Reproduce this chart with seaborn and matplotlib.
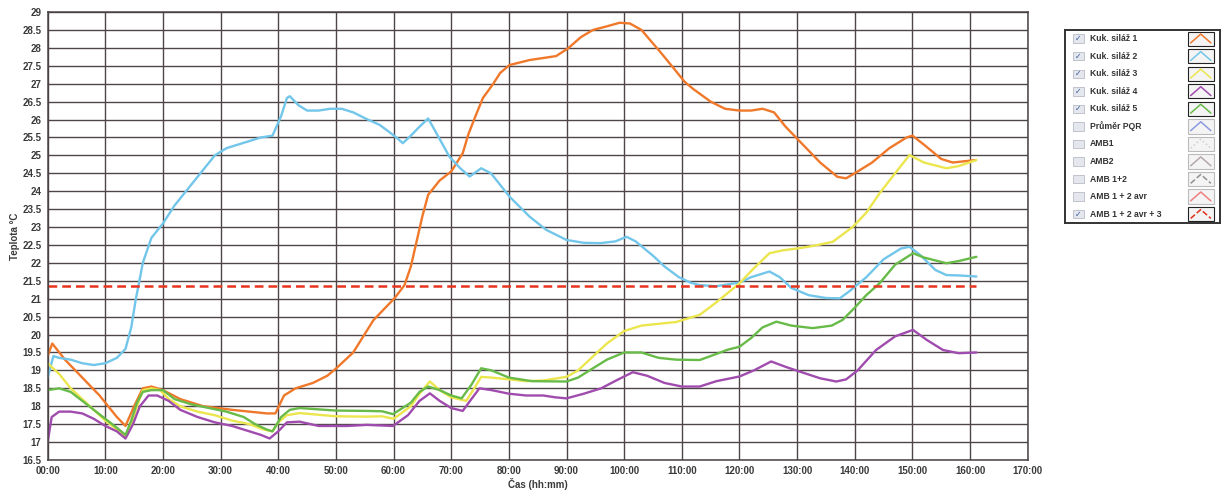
import numpy as np
import pandas as pd
import seaborn as sns
import matplotlib.pyplot as plt
from matplotlib.patches import Rectangle

# --- data (time in hours, temperature in degC) ---
t_kuk1 = [0, 0.8, 3, 6, 9, 12, 13.5, 15, 16.5, 18, 20, 23, 27, 32, 35, 38, 39.5,
          41, 43, 46, 48.5, 50, 53, 56.5, 60.2, 61.9, 63, 64, 65, 66, 67, 68, 70,
          72, 73, 74.4, 75.5, 77.3, 78.5, 80.1, 83.6, 88.2, 90.3, 92.5, 94.6, 97,
          99.2, 101, 103, 106.5, 109, 110.5, 112, 115, 117.5, 120, 122, 124, 126,
          128, 131, 134, 137, 138.5, 140, 143, 146, 149, 150, 152, 155, 157, 161]
v_kuk1 = [19.4, 19.75, 19.3, 18.8, 18.3, 17.7, 17.45, 18.0, 18.5, 18.55, 18.45,
          18.2, 18.0, 17.9, 17.85, 17.8, 17.8, 18.3, 18.5, 18.65, 18.85, 19.05, 19.5,
          20.4, 21.02, 21.38, 21.9, 22.6, 23.3, 23.9, 24.1, 24.3, 24.55, 25.06, 25.6,
          26.17, 26.6, 27.0, 27.3, 27.52, 27.66, 27.77, 27.99, 28.3, 28.5, 28.6,
          28.7, 28.68, 28.5, 27.84, 27.35, 27.05, 26.85, 26.5, 26.3, 26.25, 26.25,
          26.3, 26.2, 25.8, 25.3, 24.8, 24.4, 24.36, 24.5, 24.8, 25.2, 25.5, 25.55,
          25.3, 24.9, 24.8, 24.87]

t_kuk2 = [0, 1, 2, 4, 6, 8, 10, 12, 13.5, 14.5, 15.3, 15.8, 16.5, 18, 20, 22,
          24.5, 27, 29, 31, 33, 35, 37, 39, 40.5, 41.5, 42, 43.5, 45, 47, 49, 51,
          53, 55.5, 57.6, 60.5, 61.6, 63, 64.5, 66, 67.5, 69.7, 71.5, 73.2, 75.2,
          76.9, 80.1, 83.6, 86.5, 90, 93, 95.8, 98.5, 100.4, 102, 103.5, 105, 107,
          109.5, 111.5, 113.1, 116, 118, 120, 122, 125.2, 127, 129, 132, 135, 137.4,
          139, 142, 145, 148, 149.5, 151.5, 154, 155.9, 158, 161.1]
v_kuk2 = [18.8, 19.4, 19.35, 19.3, 19.2, 19.15, 19.2, 19.35, 19.6, 20.2, 21.0,
          21.4, 22.0, 22.7, 23.1, 23.6, 24.1, 24.6, 25.0, 25.2, 25.3, 25.4, 25.5,
          25.55, 26.1, 26.6, 26.65, 26.4, 26.25, 26.25, 26.3, 26.3, 26.2, 26.0,
          25.85, 25.5, 25.34, 25.55, 25.8, 26.03, 25.6, 24.96, 24.65, 24.41, 24.64,
          24.5, 23.85, 23.29, 22.92, 22.64, 22.56, 22.55, 22.6, 22.73, 22.6, 22.4,
          22.2, 21.9, 21.6, 21.45, 21.38, 21.35, 21.4, 21.45, 21.6, 21.76, 21.6,
          21.3, 21.1, 21.02, 21.01, 21.2, 21.6, 22.1, 22.4, 22.45, 22.2, 21.8,
          21.66, 21.65, 21.62]

t_kuk3 = [0, 2, 4, 6, 8, 10, 12, 13.5, 14.5, 15.5, 16.5, 18, 19.5, 21, 23, 26,
          29, 32, 35, 37.5, 39, 40, 41.5, 43.7, 50, 55.3, 58, 60, 63, 64.5, 66.3,
          68, 70, 72.6, 74, 75.2, 77, 80, 83, 86, 90, 92, 94, 97, 100, 103, 106,
          109, 113.1, 116, 120, 122.5, 125.2, 127.5, 130.4, 133, 136.2, 139.7, 142,
          144.3, 147, 149.5, 152, 155.9, 158, 161.1]
v_kuk3 = [19.2, 18.9, 18.5, 18.2, 17.9, 17.6, 17.35, 17.15, 17.5, 18.0, 18.45,
          18.5, 18.45, 18.2, 18.0, 17.85, 17.75, 17.6, 17.5, 17.35, 17.3, 17.55,
          17.75, 17.81, 17.72, 17.71, 17.72, 17.65, 18.0, 18.35, 18.69, 18.45,
          18.25, 18.15, 18.5, 18.82, 18.8, 18.75, 18.7, 18.72, 18.82, 19.0, 19.3,
          19.75, 20.1, 20.25, 20.3, 20.35, 20.55, 20.9, 21.43, 21.85, 22.27, 22.35,
          22.41, 22.48, 22.59, 23.01, 23.4, 23.94, 24.5, 25.01, 24.8, 24.64, 24.7,
          24.87]

t_kuk4 = [0, 0.7, 2, 4, 6, 8, 10, 12, 13.5, 14.8, 16, 17.5, 19, 21, 23, 26, 29,
          32, 34, 37, 38.5, 40, 41.5, 43.7, 47, 52, 55.3, 59.9, 62.5, 64.5, 66.3, 68,
          70, 72, 73.5, 74.9, 77, 80, 83, 86, 88, 90, 93, 96, 99, 101.5, 104, 107,
          110, 113.1, 116, 120, 122.5, 125.5, 128, 130.4, 134, 136.8, 138.5, 140.5,
          143.7, 147, 150.1, 152.5, 155.3, 158, 161.1]
v_kuk4 = [17.0, 17.7, 17.85, 17.85, 17.8, 17.65, 17.45, 17.3, 17.1, 17.5, 18.0,
          18.3, 18.3, 18.15, 17.9, 17.7, 17.55, 17.45, 17.35, 17.2, 17.1, 17.3,
          17.55, 17.57, 17.45, 17.45, 17.48, 17.45, 17.75, 18.15, 18.36, 18.15,
          17.95, 17.87, 18.2, 18.5, 18.45, 18.35, 18.3, 18.3, 18.25, 18.22, 18.35,
          18.5, 18.75, 18.95, 18.85, 18.65, 18.55, 18.55, 18.7, 18.83, 19.0, 19.25,
          19.1, 18.97, 18.78, 18.69, 18.75, 19.0, 19.57, 19.95, 20.13, 19.85, 19.57,
          19.48, 19.5]

t_kuk5 = [0, 2, 4, 6, 8, 10, 12, 13.5, 14.5, 15.5, 16.5, 18, 20, 22, 25, 28, 31,
          34, 36, 38, 39, 40.5, 42, 43.7, 50, 55.3, 58, 59.9, 63, 64.5, 66, 68, 70,
          71.8, 73.5, 75.2, 77, 80, 84, 90, 92, 94, 97, 100, 103, 106, 109, 113.1,
          115, 118, 120, 122, 124, 126.4, 129, 132.7, 136, 137.9, 140, 142, 144.3,
          147, 150.1, 152, 155.9, 158, 161.1]
v_kuk5 = [18.45, 18.5, 18.4, 18.15, 17.9, 17.65, 17.4, 17.2, 17.6, 18.1, 18.4,
          18.45, 18.45, 18.2, 18.05, 17.95, 17.85, 17.7, 17.5, 17.35, 17.3, 17.7,
          17.9, 17.95, 17.88, 17.87, 17.86, 17.78, 18.1, 18.4, 18.55, 18.45, 18.3,
          18.22, 18.6, 19.06, 19.0, 18.8, 18.7, 18.69, 18.8, 19.0, 19.3, 19.5, 19.5,
          19.35, 19.3, 19.29, 19.4, 19.58, 19.66, 19.9, 20.2, 20.36, 20.25, 20.18,
          20.25, 20.41, 20.75, 21.1, 21.43, 21.95, 22.27, 22.15, 21.99, 22.05,
          22.17]

t_amb = [0, 161]
v_amb = [21.35, 21.35]

series_names = ["Kuk. siláž 1", "Kuk. siláž 2", "Kuk. siláž 3", "Kuk. siláž 4",
                "Kuk. siláž 5"]
series_colors = ["#f0782a", "#72c6ea", "#ece64e", "#a04cae", "#68bb48"]

legend_labels = ["Kuk. siláž 1", "Kuk. siláž 2", "Kuk. siláž 3", "Kuk. siláž 4",
                 "Kuk. siláž 5", "Průměr PQR", "AMB1", "AMB2", "AMB 1+2",
                 "AMB 1 + 2 avr", "AMB 1 + 2 avr + 3"]
legend_checked = [True, True, True, True, True, False, False, False, False,
                  False, True]
legend_colors = series_colors + ["#8c9ae0", "#cfcfcf", "#b4a9a9", "#8f8f8f",
                                 "#f08080", "#e0301e"]
legend_styles = ["-"] * 6 + [":", "-", "--", "-", "--"]

frames = []
for name, t, v in zip(series_names,
                      [t_kuk1, t_kuk2, t_kuk3, t_kuk4, t_kuk5],
                      [v_kuk1, v_kuk2, v_kuk3, v_kuk4, v_kuk5]):
    frames.append(pd.DataFrame({"cas": t, "teplota": v, "serie": name}))
df = pd.concat(frames, ignore_index=True)
df_amb = pd.DataFrame({"cas": t_amb, "teplota": v_amb})

sns.set_style("white")
plt.rcParams['font.family'] = ['Liberation Sans', 'DejaVu Sans']

fig = plt.figure(figsize=(12.22, 4.9), dpi=100)
ax = fig.add_axes([0.039, 0.0612, 0.802, 0.9143])

sns.lineplot(data=df, x="cas", y="teplota", hue="serie",
             palette=dict(zip(series_names, series_colors)),
             estimator=None, sort=False, linewidth=1.7, legend=False, ax=ax)
sns.lineplot(data=df_amb, x="cas", y="teplota", color="#e8341e",
             linestyle=(0, (3.5, 2.0)), linewidth=1.8, estimator=None, ax=ax)

ax.set_xlim(0, 170)
ax.set_ylim(16.5, 29)
ax.set_xticks(np.arange(0, 171, 10))
ax.set_xticklabels([f"{h:02d}:00" for h in range(0, 171, 10)])
yt = np.arange(16.5, 29.01, 0.5)
ax.set_yticks(yt)
ax.set_yticklabels([f"{y:g}" for y in yt])
ax.grid(True, color="#4e4646", linewidth=1.0)
ax.set_axisbelow(True)
for s in ax.spines.values():
    s.set_color("#4a4242")
    s.set_linewidth(1.1)
ax.tick_params(axis="both", which="major", length=3, width=0.8, color="#555555",
               labelsize=7, labelcolor="#3a3a3a", pad=1.5, direction="out")
for lbl in ax.get_xticklabels() + ax.get_yticklabels():
    lbl.set_fontweight("bold")
ax.set_xlabel("Čas (hh:mm)", fontsize=7, fontweight="bold", color="#3a3a3a",
              labelpad=1)
ax.set_ylabel("Teplota °C", fontsize=7, fontweight="bold", color="#3a3a3a",
              labelpad=2)

# LabVIEW style legend panel with checkboxes
lax = fig.add_axes([0.8715, 0.545, 0.127, 0.394])
lax.set_xlim(0, 1)
lax.set_ylim(0, 1)
lax.set_xticks([])
lax.set_yticks([])
for s in lax.spines.values():
    s.set_color("#333333")
    s.set_linewidth(1.4)
n = len(legend_labels)
row_h = 1.0 / n
for i, (lab, chk, col, ls) in enumerate(zip(legend_labels, legend_checked,
                                            legend_colors, legend_styles)):
    yc = 1 - (i + 0.5) * row_h
    lax.add_patch(Rectangle((0.05, yc - 0.022), 0.07, 0.044, facecolor="#e4e8ee",
                            edgecolor="#b8bcc4", linewidth=0.6))
    if chk:
        lax.text(0.085, yc, "✓", ha="center", va="center", fontsize=5.5,
                 color="#3a5a9a", family="DejaVu Sans", fontweight="bold")
    lax.text(0.16, yc, lab, ha="left", va="center", fontsize=6.2,
             fontweight="bold", color="#333333")
    edge = "#222222" if chk else "#bbbbbb"
    lax.add_patch(Rectangle((0.79, yc - 0.037), 0.17, 0.074, facecolor="#f4f4f4",
                            edgecolor=edge, linewidth=0.8))
    lax.plot([0.81, 0.875, 0.94], [yc - 0.022, yc + 0.024, yc - 0.022],
             color=col, linewidth=1.1, linestyle=ls)

fig.savefig("out.png", dpi=100)
